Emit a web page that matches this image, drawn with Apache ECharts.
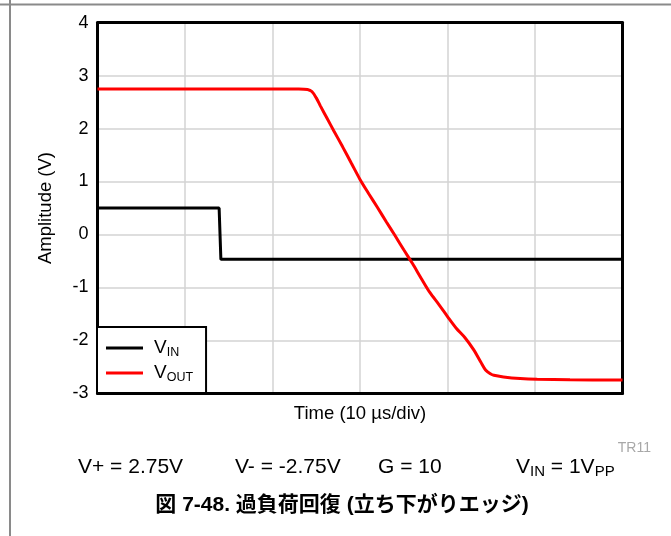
<!DOCTYPE html>
<html>
<head>
<meta charset="utf-8">
<script src="https://cdn.jsdelivr.net/npm/echarts@6/dist/echarts.min.js"></script>
<style>
html,body{margin:0;padding:0;background:#fff;}
#c{width:671px;height:536px;}
</style>
</head>
<body>
<div id="c"></div>
<script>
// Time axis in microseconds (10 µs/div, 6 divisions)
const timeMin = 0, timeMax = 60, timeStep = 10;
const ampMin = -3, ampMax = 4, ampStep = 1;
const seriesNames = ['VIN', 'VOUT'];

const vinT = [0, 13.9, 14.1, 20, 40, 60];
const vinV = [0.5, 0.5, -0.47, -0.47, -0.47, -0.47];

const voutT = [0, 10, 20, 23, 24, 24.5, 25, 25.5, 26.25, 27, 28, 29, 30, 31, 32, 33, 34, 35, 36, 37, 38, 39, 40, 41, 42, 43, 43.8, 44.35, 44.9, 45.3, 46.4, 48.3, 50.25, 54, 60];
const voutV = [2.75, 2.75, 2.75, 2.75, 2.74, 2.7, 2.58, 2.42, 2.19, 1.96, 1.66, 1.35, 1.04, 0.77, 0.51, 0.24, -0.02, -0.29, -0.55, -0.83, -1.1, -1.32, -1.55, -1.77, -1.95, -2.18, -2.41, -2.56, -2.63, -2.66, -2.69, -2.72, -2.735, -2.745, -2.75];

const FONT = '"Liberation Sans", Arial, Helvetica, sans-serif';
const CJK = '"Liberation Sans", "Noto Sans CJK JP", sans-serif';

const chart = echarts.init(document.getElementById('c'));

function zip(a, b) { return a.map((x, i) => [x, b[i]]); }

const gridL = 97.5, gridR = 671 - 622.5, gridT = 22.7, gridB = 536 - 393.3;

chart.setOption({
  animation: false,
  backgroundColor: '#fff',
  grid: { left: gridL, right: gridR, top: gridT, bottom: gridB, containLabel: false },
  xAxis: [
    {
      type: 'value', min: timeMin, max: timeMax, interval: timeStep,
      name: 'Time (10 µs/div)', nameLocation: 'middle', nameGap: 11,
      nameTextStyle: { fontFamily: FONT, fontSize: 18.5, color: '#000', verticalAlign: 'top' },
      axisLine: { show: true, onZero: false, lineStyle: { color: '#000', width: 3 } },
      axisTick: { show: false }, axisLabel: { show: false },
      splitLine: { show: true, lineStyle: { color: '#d3d3d3', width: 1.5 } }
    },
    {
      type: 'value', position: 'top', min: timeMin, max: timeMax, interval: timeStep,
      axisLine: { show: true, onZero: false, lineStyle: { color: '#000', width: 3 } },
      axisTick: { show: false }, axisLabel: { show: false }, splitLine: { show: false }
    }
  ],
  yAxis: [
    {
      type: 'value', min: ampMin, max: ampMax, interval: ampStep,
      name: 'Amplitude (V)', nameLocation: 'middle', nameGap: 42, nameRotate: 90,
      nameTextStyle: { fontFamily: FONT, fontSize: 18.5, color: '#000' },
      axisLine: { show: true, onZero: false, lineStyle: { color: '#000', width: 3 } },
      axisTick: { show: false },
      axisLabel: { fontFamily: FONT, fontSize: 18, color: '#000', margin: 9 },
      splitLine: { show: true, lineStyle: { color: '#d3d3d3', width: 1.5 } }
    },
    {
      type: 'value', position: 'right', min: ampMin, max: ampMax, interval: ampStep,
      axisLine: { show: true, onZero: false, lineStyle: { color: '#000', width: 3 } },
      axisTick: { show: false }, axisLabel: { show: false }, splitLine: { show: false }
    }
  ],
  legend: {
    orient: 'vertical',
    left: 97, top: 327,
    data: seriesNames,
    backgroundColor: '#fff',
    borderColor: '#000', borderWidth: 2,
    padding: [10, 13, 9, 9],
    itemGap: 3,
    itemWidth: 37, itemHeight: 3,
    icon: 'rect',
    formatter: function (n) { return '{v|V}{s|' + n.slice(1) + '}'; },
    textStyle: {
      fontFamily: FONT, color: '#000', padding: [0, 0, 0, 6],
      rich: {
        v: { fontFamily: FONT, fontSize: 19, color: '#000', lineHeight: 19 },
        s: { fontFamily: FONT, fontSize: 12.5, color: '#000', lineHeight: 12, padding: [9, 0, 0, 0] }
      }
    }
  },
  series: [
    {
      name: 'VIN', type: 'line', xAxisIndex: 0, yAxisIndex: 0,
      data: zip(vinT, vinV), showSymbol: false, symbol: 'none',
      lineStyle: { color: '#000', width: 3 }, itemStyle: { color: '#000' }, z: 3
    },
    {
      name: 'VOUT', type: 'line', xAxisIndex: 0, yAxisIndex: 0,
      data: zip(voutT, voutV), showSymbol: false, symbol: 'none', smooth: 0.3,
      lineStyle: { color: '#ff0000', width: 3 }, itemStyle: { color: '#ff0000' }, z: 4
    }
  ],
  graphic: [
    { type: 'line', shape: { x1: 0, y1: 4.5, x2: 671, y2: 4.5 }, style: { stroke: '#8a8a8a', lineWidth: 2 }, silent: true },
    { type: 'line', shape: { x1: 10, y1: 0, x2: 10, y2: 536 }, style: { stroke: '#8a8a8a', lineWidth: 2 }, silent: true },
    { type: 'text', x: 651, y: 448, style: { text: 'TR11', font: '14px ' + FONT, fill: '#a8a8a8', align: 'right', verticalAlign: 'middle' } },
    { type: 'text', x: 78, y: 467, style: { text: 'V+ = 2.75V', font: '21px ' + FONT, fill: '#000', align: 'left', verticalAlign: 'middle' } },
    { type: 'text', x: 235, y: 467, style: { text: 'V- = -2.75V', font: '21px ' + FONT, fill: '#000', align: 'left', verticalAlign: 'middle' } },
    { type: 'text', x: 378, y: 467, style: { text: 'G = 10', font: '21px ' + FONT, fill: '#000', align: 'left', verticalAlign: 'middle' } },
    { type: 'text', x: 516, y: 467, style: {
        text: '{v|V}{s|IN}{v| = 1V}{s|PP}', align: 'left', verticalAlign: 'middle',
        rich: {
          v: { font: '21px ' + FONT, fill: '#000', lineHeight: 21 },
          s: { font: '15px ' + FONT, fill: '#000', lineHeight: 15, padding: [10, 0, 0, 0] }
        }
    } },
    { type: 'text', x: 342, y: 505, style: { text: '図 7-48. 過負荷回復 (立ち下がりエッジ)', font: 'bold 21px ' + CJK, fill: '#000', align: 'center', verticalAlign: 'middle' } }
  ]
});
</script>
</body>
</html>
